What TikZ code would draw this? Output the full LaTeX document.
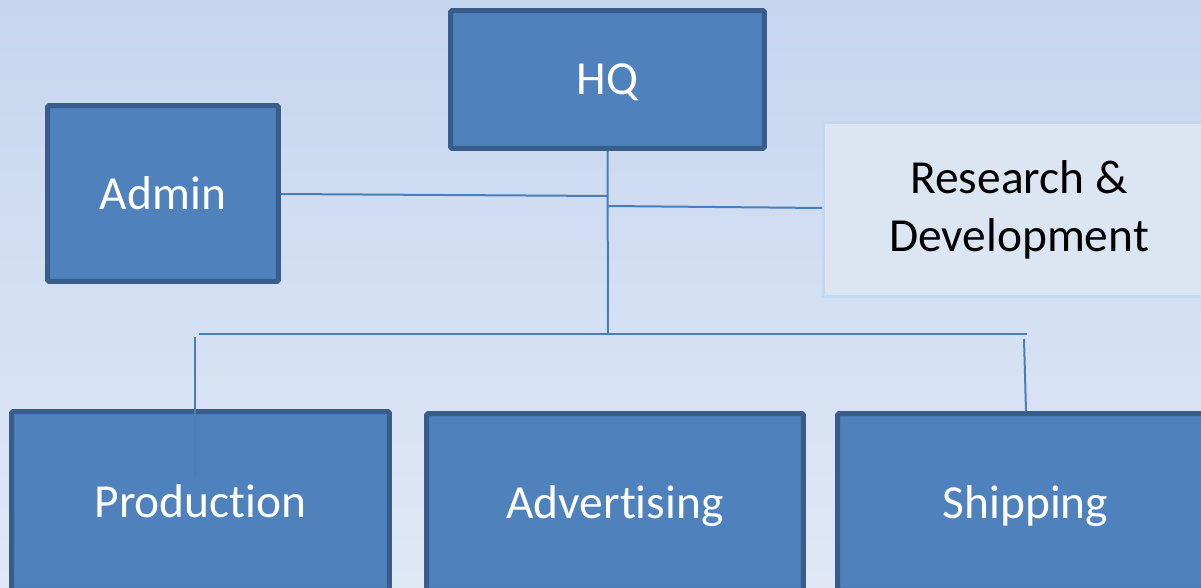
\documentclass[tikz,border=0pt]{standalone}
\usepackage{fontspec}
\setmainfont{Carlito}[Ligatures={NoCommon,NoRare,NoContextual}]
\definecolor{bgtop}{RGB}{198,214,239}
\definecolor{bgbot}{RGB}{224,232,246}
\definecolor{boxfill}{RGB}{79,129,189}
\definecolor{boxline}{RGB}{56,93,138}
\definecolor{rdfill}{RGB}{220,230,242}
\definecolor{rdline}{RGB}{198,216,240}
\definecolor{conn}{RGB}{74,126,187}
\begin{document}
\begin{tikzpicture}[x=0.02cm,y=-0.02cm,
  bluebox/.style={draw=boxline,fill=boxfill,line width=0.1cm,inner sep=0pt,
    text=white,font=\fontsize{27}{33}\selectfont,rounded corners=0.03cm,
    text depth=0pt},
  lightbox/.style={draw=rdline,fill=rdfill,line width=0.06cm,inner sep=0pt,
    text=black,font=\fontsize{27}{33}\selectfont,align=center},
  connector/.style={draw=conn,line width=0.04cm}]
\useasboundingbox (0,0) rectangle (1201,588);
\clip (0,0) rectangle (1201,588);
\shade[top color=bgtop,bottom color=bgbot] (0,0) rectangle (1201,588);

\node[bluebox,minimum width=6.28cm,minimum height=2.76cm] (hq) at (607.5,79.5) {HQ};
\node[bluebox,minimum width=4.62cm,minimum height=3.52cm] (admin) at (163,193.5) {Admin};
\node[lightbox,minimum width=7.82cm,minimum height=3.48cm] (rd) at (1019,209.5) {Research \&\\Development};
\node[bluebox,minimum width=7.56cm,minimum height=3.58cm] (prod) at (200.5,501) {Production};
\node[bluebox,minimum width=7.54cm,minimum height=3.54cm] (adv) at (615,502) {Advertising};
\node[bluebox,minimum width=7.52cm,minimum height=3.54cm] (ship) at (1025.5,502) {Shipping};

\coordinate (jadmin) at (608,196);
\coordinate (jrd) at (608,206);
\coordinate (jbot) at (608,334);
\coordinate (barL) at (199,334);
\coordinate (barR) at (1027,334);
\coordinate (prodtop) at (195,337);
\coordinate (prodend) at (195,478);
\coordinate (shiptop) at (1024,339);
\coordinate (shipend) at (1026,411);

\draw[connector] (hq.south) -- (jbot);
\draw[connector] (admin.east |- 0,194) -- (jadmin);
\draw[connector] (jrd) -- (rd.west |- 0,208);
\draw[connector] (barL) -- (barR);
\draw[connector] (prodtop) -- (prodend);
\draw[connector] (shiptop) -- (shipend);
\end{tikzpicture}
\end{document}
